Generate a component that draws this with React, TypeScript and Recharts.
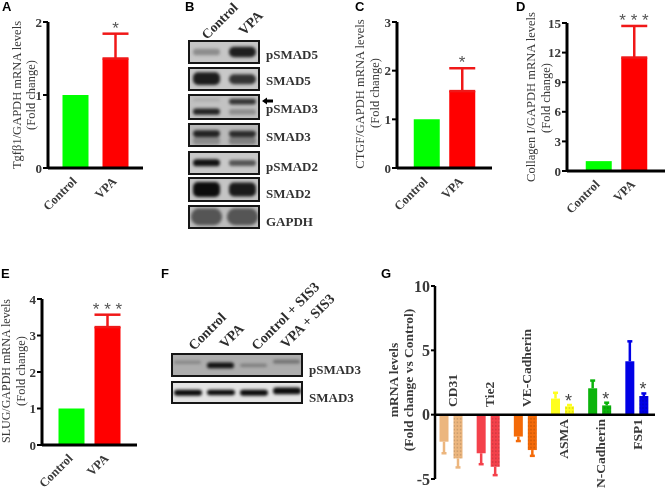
import {
  BarChart,
  Bar,
  XAxis,
  YAxis,
  Cell,
  ErrorBar,
  ReferenceDot,
  ReferenceLine,
} from 'recharts'

const foldCategories = ['Control', 'VPA']
const tgfValues = [1, 1.5]
const tgfErrors = [null, 0.34]
const ctgfValues = [1, 1.58]
const ctgfErrors = [null, 0.47]
const collagenValues = [1, 11.5]
const collagenErrors = [null, 3.2]
const slugValues = [1, 3.23]
const slugErrors = [null, 0.34]

const geneNames = ['CD31', 'Tie2', 'VE-Cadherin', 'ASMA', 'N-Cadherin', 'FSP1']
const geneColors = ['#ecb67e', '#f4414b', '#f46a08', '#ffff1e', '#0cb40c', '#0000e6']
const firstValues = [-2.1, -3.0, -1.7, 1.25, 2.05, 4.15]
const firstErrors = [0.9, 0.85, 0.35, 0.45, 0.6, 1.55]
const secondValues = [-3.4, -4.05, -2.75, 0.65, 0.72, 1.45]
const secondErrors = [0.7, 0.65, 0.45, 0.1, 0.21, 0.2]
const geneData = geneNames.map((name, i) => ({
  name,
  color: geneColors[i],
  first: firstValues[i],
  firstError: firstErrors[i],
  second: secondValues[i],
  secondError: secondErrors[i],
}))

const twoLanes = ['Control', 'VPA']
const fourLanes = ['Control', 'VPA', 'Control + SIS3', 'VPA + SIS3']

const SERIF = '"Liberation Serif", serif'
const TEXT = '#3a3a3a'

function FoldTick({ x, y, payload }: any) {
  return (
    <text
      transform={`translate(${x + 2},${y + 8}) rotate(-45)`}
      textAnchor="end"
      fontFamily={SERIF}
      fontWeight={700}
      fontSize={12.5}
      fill={TEXT}
    >
      {payload.value}
    </text>
  )
}

function FoldChart({ axisX, top, plotW, plotH, max, ticks, values, errors, stars, c1, c2 }: any) {
  const data = foldCategories.map((name, i) => ({
    name,
    value: values[i],
    err: errors[i] == null ? null : [0, errors[i]],
  }))
  const band = c2 - c1
  const padLeft = c1 - band / 2 - axisX
  const padRight = axisX + plotW - (c2 + band / 2)
  return (
    <div style={{ position: 'absolute', left: axisX - 40, top: top - 14 }}>
      <BarChart
        width={plotW + 50}
        height={plotH + 76}
        data={data}
        margin={{ top: 14, right: 10, bottom: 0, left: 0 }}
        barSize={26}
      >
        <XAxis
          dataKey="name"
          height={62}
          interval={0}
          padding={{ left: padLeft, right: padRight }}
          tick={<FoldTick />}
          tickLine={false}
          tickMargin={0}
          axisLine={{ stroke: '#000', strokeWidth: 3 }}
        />
        <YAxis
          width={40}
          domain={[0, max]}
          ticks={ticks}
          interval={0}
          tick={{ fontSize: 13, fontWeight: 700, fill: TEXT, fontFamily: SERIF }}
          tickSize={5}
          tickMargin={1}
          tickLine={{ stroke: '#000', strokeWidth: 2 }}
          axisLine={{ stroke: '#000', strokeWidth: 3 }}
        />
        <Bar dataKey="value" isAnimationActive={false}>
          <Cell fill="#00ff00" />
          <Cell fill="#ff0000" />
          <ErrorBar dataKey="err" direction="y" width={13} stroke="#f01818" strokeWidth={2.5} />
        </Bar>
        <ReferenceDot
          x="VPA"
          y={values[1] + errors[1]}
          r={0}
          ifOverflow="visible"
          stroke="none"
          label={{
            value: stars,
            position: 'top',
            offset: 0,
            fontSize: 17,
            fill: '#555',
            fontFamily: '"Liberation Sans", sans-serif',
          }}
        />
      </BarChart>
    </div>
  )
}

function GeneBar(props: any) {
  const { x, y, width, height, payload, valueKey, errorKey, dotted } = props
  const value = payload[valueKey]
  const barTop = Math.min(y, y + height)
  const barHeight = Math.abs(height)
  const perUnit = barHeight / Math.abs(value)
  const whisker = payload[errorKey] * perUnit
  const cx = x + width / 2
  const tip = value < 0 ? barTop + barHeight + whisker : barTop - whisker
  const edge = value < 0 ? barTop + barHeight : barTop
  return (
    <g>
      <rect x={x} y={barTop} width={width} height={barHeight} fill={payload.color} />
      {dotted && <rect x={x} y={barTop} width={width} height={barHeight} fill="url(#geneDots)" />}
      <line x1={cx} x2={cx} y1={edge} y2={tip} stroke={payload.color} strokeWidth={2.5} />
      <line x1={cx - 2.5} x2={cx + 2.5} y1={tip} y2={tip} stroke={payload.color} strokeWidth={2.5} />
    </g>
  )
}

function GeneTick({ x, payload, index }: any) {
  const above = firstValues[index] < 0
  const labelY = above ? 134 : 146
  return (
    <text
      transform={`translate(${x + 1},${labelY}) rotate(-90)`}
      textAnchor={above ? 'start' : 'end'}
      dominantBaseline="central"
      fontFamily={SERIF}
      fontWeight={700}
      fontSize={13.5}
      fill={TEXT}
    >
      {payload.value}
    </text>
  )
}

function GeneChart() {
  return (
    <div style={{ position: 'absolute', left: 395, top: 273 }}>
      <BarChart
        width={265}
        height={218}
        data={geneData}
        margin={{ top: 13, right: 5, bottom: 0, left: 0 }}
        barSize={9}
        barGap={5}
      >
        <XAxis
          dataKey="name"
          height={12}
          interval={0}
          padding={{ left: -2.5, right: -0.5 }}
          axisLine={false}
          tickLine={false}
          tick={<GeneTick />}
        />
        <YAxis
          width={40}
          domain={[-5, 10]}
          ticks={[-5, 0, 5, 10]}
          interval={0}
          tick={{ fontSize: 16, fontWeight: 700, fill: TEXT, fontFamily: SERIF }}
          tickSize={4}
          tickMargin={1}
          tickLine={{ stroke: '#000', strokeWidth: 2 }}
          axisLine={{ stroke: '#000', strokeWidth: 2.5 }}
        />
        <Bar
          dataKey="first"
          isAnimationActive={false}
          shape={(p: any) => <GeneBar {...p} valueKey="first" errorKey="firstError" />}
        />
        <Bar
          dataKey="second"
          isAnimationActive={false}
          shape={(p: any) => <GeneBar {...p} valueKey="second" errorKey="secondError" dotted />}
        />
        <ReferenceLine y={0} stroke="#000" strokeWidth={2.5} />
        {['ASMA', 'N-Cadherin', 'FSP1'].map((name, i) => (
          <ReferenceDot
            key={name}
            x={name}
            y={secondValues[i + 3] + secondErrors[i + 3]}
            r={0}
            ifOverflow="visible"
            stroke="none"
            label={{
              value: '*',
              position: 'top',
              offset: -2,
              dx: 6,
              fontSize: 18,
              fill: '#444',
              fontFamily: '"Liberation Sans", sans-serif',
            }}
          />
        ))}
      </BarChart>
    </div>
  )
}

function Blot({ x, y, w, h, bg, lanes, main, mainShades, upper, upperShades, barSize, radius = 5 }: any) {
  const data = lanes.map((lane: string, i: number) => ({
    lane,
    main: main[i],
    upper: upper ? upper[i] : null,
  }))
  return (
    <div
      style={{
        position: 'absolute',
        left: x,
        top: y,
        width: w,
        height: h,
        boxSizing: 'border-box',
        border: '2px solid #161616',
        background: bg,
        overflow: 'hidden',
      }}
    >
      <div style={{ position: 'absolute', left: -2, top: -2, filter: 'blur(1.5px)' }}>
        <BarChart
          width={w}
          height={h}
          data={data}
          margin={{ top: 0, right: 0, bottom: 0, left: 0 }}
          barSize={barSize}
          barGap={-barSize}
        >
          <XAxis dataKey="lane" hide padding={{ left: 0, right: 0 }} />
          <YAxis hide domain={[0, 1]} />
          <Bar dataKey="main" isAnimationActive={false} radius={radius}>
            {mainShades.map((shade: string, i: number) => (
              <Cell key={i} fill={shade} />
            ))}
          </Bar>
          {upper && (
            <Bar dataKey="upper" isAnimationActive={false} radius={3}>
              {upperShades.map((shade: string, i: number) => (
                <Cell key={i} fill={shade} />
              ))}
            </Bar>
          )}
        </BarChart>
      </div>
    </div>
  )
}

function VText({ x, y, bold, size = 12.5, spacing = 0, children }: any) {
  return (
    <text
      transform={`translate(${x},${y}) rotate(-90)`}
      textAnchor="middle"
      dominantBaseline="central"
      fontFamily={SERIF}
      fontWeight={bold ? 700 : 400}
      fontSize={size}
      letterSpacing={spacing}
      fill={TEXT}
    >
      {children}
    </text>
  )
}

function Slanted({ x, y, size = 14, children }: any) {
  return (
    <text
      transform={`translate(${x},${y}) rotate(-45)`}
      fontFamily={SERIF}
      fontWeight={700}
      fontSize={size}
      fill="#2c2c2c"
    >
      {children}
    </text>
  )
}

function RowLabel({ x, y, children }: any) {
  return (
    <text x={x} y={y} dominantBaseline="central" fontFamily={SERIF} fontWeight={700} fontSize={13} fill="#333">
      {children}
    </text>
  )
}

function PanelLetter({ x, y, children }: any) {
  return (
    <text x={x} y={y} fontFamily='"Liberation Sans", sans-serif' fontWeight={700} fontSize={13} fill="#000">
      {children}
    </text>
  )
}

export default function App() {
  return (
    <div
      style={{
        position: 'absolute',
        left: 0,
        top: 0,
        width: 666,
        height: 491,
        background: '#fff',
        overflow: 'hidden',
        filter: 'blur(0.35px)',
      }}
    >
      <svg width={0} height={0} style={{ position: 'absolute' }}>
        <defs>
          <pattern id="geneDots" width={3.2} height={3.6} patternUnits="userSpaceOnUse">
            <circle cx={1.6} cy={1.8} r={0.65} fill="rgba(0,0,0,0.28)" />
          </pattern>
        </defs>
      </svg>

      <FoldChart axisX={48} top={22} plotW={95} plotH={146} max={2} ticks={[0, 1, 2]} values={tgfValues} errors={tgfErrors} stars="*" c1={75.5} c2={115.5} />
      <FoldChart axisX={397} top={22} plotW={95} plotH={146} max={3} ticks={[0, 1, 2, 3]} values={ctgfValues} errors={ctgfErrors} stars="*" c1={426.5} c2={462} />
      <FoldChart axisX={567} top={23} plotW={98} plotH={148} max={15} ticks={[0, 3, 6, 9, 12, 15]} values={collagenValues} errors={collagenErrors} stars="* * *" c1={598.5} c2={634} />
      <FoldChart axisX={42} top={299} plotW={95} plotH={146} max={4} ticks={[0, 1, 2, 3, 4]} values={slugValues} errors={slugErrors} stars="* * *" c1={71.5} c2={107.5} />
      <GeneChart />

      <Blot x={188} y={40} w={72} h={24} bg="#c6c6c6" lanes={twoLanes} barSize={27} main={[[0.36, 0.64], [0.28, 0.72]]} mainShades={['#8c8c8c', '#1e1e1e']} />
      <Blot x={188} y={67} w={72} h={24} bg="#c8c8c8" lanes={twoLanes} barSize={27} main={[[0.25, 0.78], [0.28, 0.7]]} mainShades={['#1c1c1c', '#333333']} />
      <Blot x={188} y={94} w={72} h={26} bg="#c2c2c2" lanes={twoLanes} barSize={27} main={[[0.2, 0.44], [0.2, 0.42]]} mainShades={['#222222', '#8f8f8f']} upper={[[0.72, 0.84], [0.6, 0.82]]} upperShades={['#aaaaaa', '#333333']} />
      <Blot x={188} y={123} w={72} h={24} bg="#b9b9b9" lanes={twoLanes} barSize={27} main={[[0.42, 0.7], [0.42, 0.68]]} mainShades={['#222222', '#2a2a2a']} upper={[[0.1, 0.42], [0.1, 0.42]]} upperShades={['#8a8a8a', '#7e7e7e']} />
      <Blot x={188} y={151} w={72} h={24} bg="#c8c8c8" lanes={twoLanes} barSize={27} main={[[0.36, 0.66], [0.38, 0.62]]} mainShades={['#111111', '#555555']} />
      <Blot x={188} y={177} w={72} h={25} bg="#c4c4c4" lanes={twoLanes} barSize={27} main={[[0.2, 0.8], [0.22, 0.78]]} mainShades={['#0c0c0c', '#1a1a1a']} />
      <Blot x={188} y={205} w={72} h={24} bg="#bcbcbc" lanes={twoLanes} barSize={31} radius={8} main={[[0.16, 0.86], [0.16, 0.86]]} mainShades={['#555555', '#555555']} />

      <Blot x={171} y={353} w={132} h={24} bg="#adadad" lanes={fourLanes} barSize={27} main={[[0.55, 0.68], [0.36, 0.6], [0.42, 0.55], [0.56, 0.72]]} mainShades={['#828282', '#111111', '#7c7c7c', '#6f6f6f']} />
      <Blot x={171} y={381} w={132} h={23} bg="#e4e4e4" lanes={fourLanes} barSize={28} main={[[0.36, 0.62], [0.38, 0.62], [0.36, 0.62], [0.42, 0.72]]} mainShades={['#0a0a0a', '#0a0a0a', '#0a0a0a', '#0a0a0a']} />

      <svg width={666} height={491} style={{ position: 'absolute', left: 0, top: 0, pointerEvents: 'none' }}>
        <PanelLetter x={2} y={11}>A</PanelLetter>
        <PanelLetter x={185} y={11}>B</PanelLetter>
        <PanelLetter x={355} y={11}>C</PanelLetter>
        <PanelLetter x={516} y={11}>D</PanelLetter>
        <PanelLetter x={1} y={278}>E</PanelLetter>
        <PanelLetter x={161} y={278}>F</PanelLetter>
        <PanelLetter x={381} y={278}>G</PanelLetter>

        <VText x={17} y={95}>Tgfβ1/GAPDH mRNA levels</VText>
        <VText x={31} y={95}>(Fold change)</VText>
        <VText x={360} y={94}>CTGF/GAPDH mRNA  levels</VText>
        <VText x={375} y={93}>(Fold change)</VText>
        <VText x={531} y={97}>Collagen I/GAPDH mRNA  levels</VText>
        <VText x={546} y={98}>(Fold change)</VText>
        <VText x={6} y={371} size={12}>SLUG/GAPDH mRNA levels</VText>
        <VText x={21} y={371}>(Fold change)</VText>
        <VText x={393} y={380} bold size={13.5}>mRNA levels</VText>
        <VText x={408} y={380} bold size={13.5}>(Fold change vs Control)</VText>

        <Slanted x={207} y={40} size={13.5}>Control</Slanted>
        <Slanted x={244} y={36}>VPA</Slanted>
        <Slanted x={194} y={351}>Control</Slanted>
        <Slanted x={225} y={349}>VPA</Slanted>
        <Slanted x={257} y={351}>Control + SIS3</Slanted>
        <Slanted x={286} y={349}>VPA + SIS3</Slanted>

        <RowLabel x={266} y={54}>pSMAD5</RowLabel>
        <RowLabel x={266} y={80}>SMAD5</RowLabel>
        <RowLabel x={266} y={108}>pSMAD3</RowLabel>
        <RowLabel x={266} y={136}>SMAD3</RowLabel>
        <RowLabel x={266} y={166}>pSMAD2</RowLabel>
        <RowLabel x={266} y={193}>SMAD2</RowLabel>
        <RowLabel x={266} y={221}>GAPDH</RowLabel>
        <RowLabel x={309} y={369}>pSMAD3</RowLabel>
        <RowLabel x={309} y={397}>SMAD3</RowLabel>

        <path d="M262 101 L267 97.5 V99.5 H273 V102.5 H267 V104.5 Z" fill="#000" />
      </svg>
    </div>
  )
}
